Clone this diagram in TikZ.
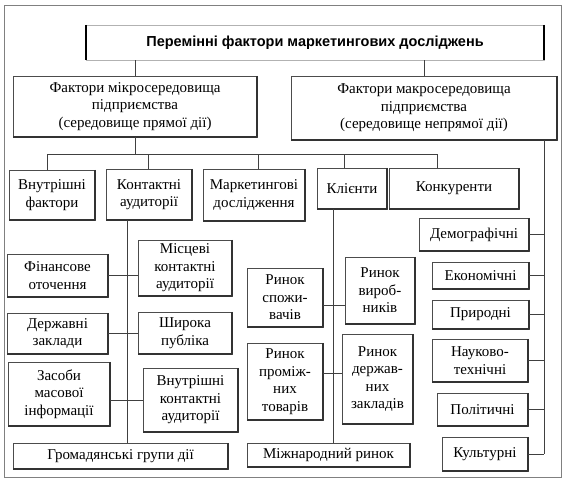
\documentclass[tikz,border=0pt]{standalone}
\usepackage{fontspec}
\setmainfont{Liberation Serif}
\newfontfamily\boxfont{Liberation Serif}
\newfontfamily\titlefont{Liberation Sans}
\usetikzlibrary{calc}
\tikzset{
  shadowline/.style={draw=black!80, line width=1.8pt},
  fbox/.style={draw=black!70, fill=white, line width=0.5pt, align=center, inner sep=1pt,
    font=\boxfont\fontsize{15}{17.5}\selectfont,
    append after command={(\tikzlastnode.north east) edge[shadowline] (\tikzlastnode.south east)
      (\tikzlastnode.south east) edge[shadowline] (\tikzlastnode.south west)}},
  wire/.style={draw=black!75, line width=0.6pt},
}
\begin{document}
\begin{tikzpicture}[x=1pt, y=-1pt]
    \useasboundingbox (0,0) rectangle (564,485);
    \draw[black!50] (4,5) rectangle (561,477);

    % title
    \node[draw=black!30, minimum width=458pt, minimum height=35pt,
      font=\titlefont\bfseries\fontsize{14.5}{17}\selectfont] (title) at (315,42.5)
      {Перемінні фактори маркетингових досліджень};
    \draw[line width=2.5pt] (title.north west) -- (title.south west);
    \draw[line width=2.5pt] (title.north east) -- (title.south east);

    \node[fbox, minimum width=244pt, minimum height=61pt] (mikro) at (135,106.5)
      {Фактори мікросередовища\\підприємства\\(середовище прямої дії)};
    \node[fbox, minimum width=266pt, minimum height=64pt] (makro) at (424,108)
      {Фактори макросередовища\\підприємства\\(середовище непрямої дії)};

    % second row
    \node[fbox, minimum width=86pt, minimum height=50pt] (vnutr) at (52,195) {Внутрішні\\фактори};
    \node[fbox, minimum width=86pt, minimum height=51pt] (kontakt) at (149,194.5) {Контактні\\аудиторії};
    \node[fbox, minimum width=102pt, minimum height=52pt] (market) at (254,195) {Маркетингові\\дослідження};
    \node[fbox, minimum width=70pt, minimum height=41pt] (klient) at (352,188.5) {Клієнти};
    \node[fbox, minimum width=130pt, minimum height=41pt] (konk) at (454,188.5) {Конкуренти};

    % contact audiences
    \node[fbox, minimum width=101pt, minimum height=43pt] (fin) at (57.5,275.5) {Фінансове\\оточення};
    \node[fbox, minimum width=94pt, minimum height=56pt] (misc) at (185,268) {Місцеві\\контактні\\аудиторії};
    \node[fbox, minimum width=101pt, minimum height=41pt] (derzh) at (57.5,333.5) {Державні\\заклади};
    \node[fbox, minimum width=94pt, minimum height=42pt] (shyr) at (185,333) {Широка\\публіка};
    \node[fbox, minimum width=102pt, minimum height=64pt] (zasob) at (59,394) {Засоби\\масової\\інформації};
    \node[fbox, minimum width=95pt, minimum height=64pt] (vnkont) at (190.5,400) {Внутрішні\\контактні\\аудиторії};
    \node[fbox, minimum width=215pt, minimum height=26pt] (hrom) at (120.5,456) {Громадянські групи дії};

    % clients
    \node[fbox, minimum width=76pt, minimum height=59pt] (spozh) at (285,297.5) {Ринок\\спожи-\\вачів};
    \node[fbox, minimum width=70pt, minimum height=67pt] (vyrob) at (380,290.5) {Ринок\\вироб-\\ників};
    \node[fbox, minimum width=76pt, minimum height=77pt] (promizh) at (285,381.5) {Ринок\\проміж-\\них\\товарів};
    \node[fbox, minimum width=71pt, minimum height=90pt] (derzhzakl) at (377.5,379) {Ринок\\держав-\\них\\закладів};
    \node[fbox, minimum width=163pt, minimum height=24pt] (mizhn) at (328.5,455) {Міжнародний ринок};

    % macro factors
    \node[fbox, minimum width=110pt, minimum height=33pt] (demo) at (474,234.5) {Демографічні};
    \node[fbox, minimum width=97pt, minimum height=27pt] (ekon) at (480.5,275.5) {Економічні};
    \node[fbox, minimum width=97pt, minimum height=29pt] (pryr) at (480.5,314.5) {Природні};
    \node[fbox, minimum width=96pt, minimum height=43pt] (nauk) at (480,360.5) {Науково-\\технічні};
    \node[fbox, minimum width=91pt, minimum height=33pt] (polit) at (482.5,409.5) {Політичні};
    \node[fbox, minimum width=86pt, minimum height=34pt] (kult) at (485,454) {Культурні};

    % connectors
    \draw[wire] (title.south -| mikro.north) -- (mikro.north);
    \draw[wire] (title.south -| makro.north) -- (makro.north);

    \coordinate (mbus) at (135,154);
    \draw[wire] (mikro.south) -- (mbus);
    \foreach \n/\f in {vnutr/0.44, kontakt/0.49, market/0.54, klient/0.39, konk/0.37}
      \draw[wire] (mbus) -| ($(\n.north west)!\f!(\n.north east)$);

    \coordinate (kbus) at (127,443);
    \draw[wire] (kontakt.south -| kbus) -- (kbus);
    \draw[wire] (fin.east) -- (fin.east -| misc.west);
    \draw[wire] (derzh.east) -- (derzh.east -| shyr.west);
    \draw[wire] (vnkont.west) -- (vnkont.west -| zasob.east);

    \coordinate (cbus) at (333,443);
    \draw[wire] (klient.south -| cbus) -- (cbus);
    \draw[wire] ([yshift=-8pt]spozh.east) -- ([yshift=-8pt]spozh.east -| vyrob.west);
    \draw[wire] ([yshift=8pt]promizh.east) -- ([yshift=8pt]promizh.east -| derzhzakl.west);

    \coordinate (mkbus) at (544,454);
    \draw[wire] (makro.south -| mkbus) -- (mkbus);
    \foreach \n in {demo, ekon, pryr, nauk, polit, kult}
      \draw[wire] (\n.east) -- (\n.east -| mkbus);
\end{tikzpicture}
\end{document}
